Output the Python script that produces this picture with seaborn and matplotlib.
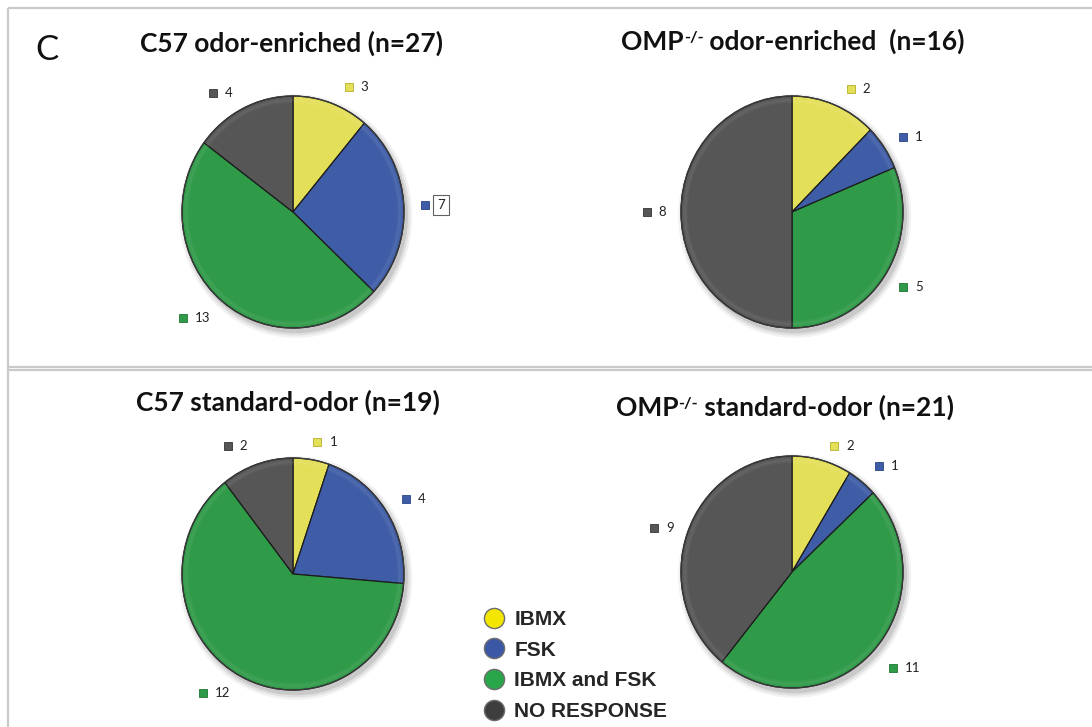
import matplotlib
matplotlib.use("Agg")
import matplotlib.pyplot as plt
import seaborn as sns
from matplotlib.lines import Line2D
from matplotlib.patches import Ellipse

# ---- data -------------------------------------------------------------
categories = ["IBMX", "FSK", "IBMX and FSK", "NO RESPONSE"]
c57_enriched = [3, 7, 13, 4]
omp_enriched = [2, 1, 5, 8]
c57_standard = [1, 4, 12, 2]
omp_standard = [2, 1, 11, 9]

panel_strain = ["C57", "OMP", "C57", "OMP"]
panel_condition = ["odor-enriched", "odor-enriched ", "standard-odor", "standard-odor"]
panel_n = [27, 16, 19, 21]

# ---- style --------------------------------------------------------------
sns.set_theme(style="white")
plt.rcParams["font.family"] = ["Lato", "DejaVu Sans"]

pie_colors = sns.color_palette(["#e4df58", "#3f5da7", "#2f9a48", "#565656"])
edge_colors = sns.color_palette(["#b5ae2a", "#2a4385", "#1f7333", "#333333"])
legend_colors = sns.color_palette(["#f3e600", "#3b57a6", "#2aa64a", "#3e3e3e"])

W, H = 1092, 727
RX, RY = 111, 116            # pie radius in pixels (x, y)

# pie centres (pixels from top-left) and value-label anchors in radius units
centres = [(293, 212), (792, 212), (293, 574), (792, 572)]
label_anchor = [
    [(0.50, 1.08), (1.19, 0.06), (-0.99, -0.91), (-0.72, 1.03)],
    [(0.53, 1.06), (1.00, 0.65), (1.00, -0.65), (-1.31, 0.00)],
    [(0.22, 1.14), (1.02, 0.65), (-0.81, -1.03), (-0.59, 1.10)],
    [(0.38, 1.09), (0.78, 0.91), (0.91, -0.83), (-1.24, 0.38)],
]
boxed_label = {(0, 1)}
title_pos = [(292, 43), (793, 42), (288, 402), (785, 408)]

fig = plt.figure(figsize=(W / 100, H / 100), dpi=100)
bg = fig.add_axes([0, 0, 1, 1])
bg.set_xlim(0, W)
bg.set_ylim(H, 0)
bg.axis("off")

# panel frames
frame_kw = dict(color="#c9c9c9", lw=1.6, solid_capstyle="butt")
bg.plot([8, W], [7.5, 7.5], **frame_kw)
bg.plot([8, 8], [7.5, H], **frame_kw)
bg.plot([8, W], [366.5, 366.5], **frame_kw)
bg.plot([8, W], [369.5, 369.5], **frame_kw)

bg.text(47, 50, "C", fontsize=25, ha="center", va="center", color="#111111")

panels = [c57_enriched, omp_enriched, c57_standard, omp_standard]
for p, vals in enumerate(panels):
    cx, cy = centres[p]
    ax = fig.add_axes([(cx - 1.6 * RX) / W, (H - cy - 1.55 * RY) / H,
                       3.2 * RX / W, 3.1 * RY / H])
    # soft drop shadow
    for grow, a in [(1.05, 0.05), (1.03, 0.07), (1.01, 0.10)]:
        ax.add_patch(Ellipse((0.025, -0.035), 2 * grow, 2 * grow,
                             color="black", alpha=a, lw=0, zorder=0))
    wedges, _ = ax.pie(vals, colors=pie_colors, startangle=90, counterclock=False,
                       radius=1.0,
                       wedgeprops=dict(edgecolor="#1c1c1c", linewidth=0.9))
    for w in wedges:
        w.set_zorder(2)
    # faint bevel highlight near the rim
    for r_out, a in [(0.985, 0.05), (0.97, 0.04)]:
        rim, _ = ax.pie(vals, colors=[(1, 1, 1, a)] * len(vals), startangle=90,
                        counterclock=False, radius=r_out,
                        wedgeprops=dict(width=0.03, linewidth=0))
        for w in rim:
            w.set_zorder(3)
    ax.add_patch(Ellipse((0, 0), 2, 2, fill=False, ec="#3a3a3a", lw=0.9, zorder=4))
    ax.set_aspect("auto")
    ax.set_xlim(-1.6, 1.6)
    ax.set_ylim(-1.55, 1.55)
    ax.axis("off")

    for k, (dx, dy) in enumerate(label_anchor[p]):
        ax.plot(dx, dy, marker="s", ms=5.5, color=pie_colors[k],
                mec=edge_colors[k], mew=0.6, zorder=5)
        kw = {}
        if (p, k) in boxed_label:
            kw["bbox"] = dict(boxstyle="square,pad=0.3", fc="white",
                              ec="#606060", lw=0.8)
        ax.text(dx + 12 / RX, dy, str(vals[k]), fontsize=9.5, ha="left",
                va="center", color="#222222", zorder=5, **kw)

# panel titles
fig.canvas.draw()
renderer = fig.canvas.get_renderer()
tsize = 19
for p in range(len(panels)):
    tx, ty = title_pos[p]
    tail = f" {panel_condition[p]} (n={panel_n[p]})"
    if panel_strain[p] == "OMP":
        t1 = bg.text(0, ty, "OMP", fontsize=tsize, fontweight="bold",
                     ha="left", va="center", color="#111111")
        t2 = bg.annotate("-/-", xy=(1, 0.97), xycoords=t1, fontsize=tsize * 0.62,
                         fontweight="bold", ha="left", va="top", color="#111111")
        t3 = bg.annotate(tail, xy=(1, 0), xycoords=(t2, t1), fontsize=tsize,
                         fontweight="bold", ha="left", va="bottom", color="#111111")
        fig.canvas.draw()
        b1 = t1.get_window_extent(renderer)
        b3 = t3.get_window_extent(renderer)
        width_px = b3.x1 - b1.x0
        t1.set_x(tx - width_px / 2)
    else:
        bg.text(tx, ty, panel_strain[p] + tail, fontsize=tsize, fontweight="bold",
                ha="center", va="center", color="#111111")

# legend
handles = [Line2D([0], [0], marker="o", ls="", ms=14.5, mfc=c, mec="#6d6d6d", mew=1)
           for c in legend_colors]
fig.legend(handles, categories, loc="upper left",
           bbox_to_anchor=(484 / W, 1 - 610 / H), frameon=False,
           prop=dict(family="Liberation Sans", weight="bold", size=15),
           handlelength=1.0, handletextpad=0.45, labelspacing=0.56,
           borderpad=0, borderaxespad=0)

fig.savefig("out.png", dpi=100, facecolor="white")
